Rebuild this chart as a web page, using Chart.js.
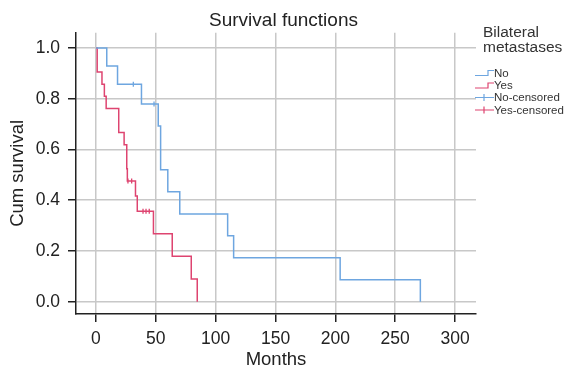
<!DOCTYPE html>
<html>
<head>
<meta charset="utf-8">
<script src="https://cdn.jsdelivr.net/npm/chart.js@4/dist/chart.umd.min.js"></script>
<style>
  html, body { margin: 0; padding: 0; background: #fff; }
  #wrap { width: 567px; height: 373px; }
</style>
</head>
<body>
<div id="wrap"><canvas id="c" width="567" height="373"></canvas></div>
<script>
// ---- data ----
const seriesNames = ['No', 'Yes', 'No-censored', 'Yes-censored'];
const legendTitle = ['Bilateral', 'metastases'];
const noTimes = [0, 9, 18, 38, 52, 54, 60, 70, 110, 115, 204, 271];
const noSurv  = [1, 0.929, 0.857, 0.779, 0.693, 0.520, 0.433, 0.346, 0.260, 0.173, 0.087, 0];
const yesTimes = [0, 1, 5, 7, 8.5, 19, 23.5, 25.7, 26.2, 33, 34.5, 48, 63.7, 79.6, 84.6];
const yesSurv  = [1, 0.905, 0.857, 0.810, 0.762, 0.667, 0.619, 0.524, 0.476, 0.417, 0.357, 0.268, 0.179, 0.089, 0];
const noCensTimes = [31.2, 48.5];
const noCensSurv  = [0.857, 0.779];
const yesCensTimes = [26.7, 29.8, 39.3, 41.8, 44.5];
const yesCensSurv  = [0.476, 0.476, 0.357, 0.357, 0.357];
const xTickValues = [0, 50, 100, 150, 200, 250, 300];
const yTickValues = [0, 0.2, 0.4, 0.6, 0.8, 1.0];

const BLUE = '#6ea6e0';
const RED = '#de4470';
const FONT = "'Liberation Sans', Arial, Helvetica, sans-serif";
const zip = (xs, ys) => xs.map((x, i) => ({x: x, y: ys[i]}));

const legendPlugin = {
  id: 'kmLegend',
  afterDraw(chart) {
    const ctx = chart.ctx;
    ctx.save();
    ctx.fillStyle = '#333';
    ctx.font = '15.5px ' + FONT;
    ctx.textBaseline = 'alphabetic';
    ctx.textAlign = 'left';
    legendTitle.forEach((t, i) => ctx.fillText(t, 483, 37 + i * 15));
    const ys = [73, 85.5, 97.5, 110];
    ctx.font = '11.5px ' + FONT;
    ctx.textBaseline = 'middle';
    chart.data.datasets.forEach((ds, i) => {
      const y = ys[i];
      const x0 = 475, x1 = 494;
      ctx.strokeStyle = ds.borderColor;
      ctx.lineWidth = 1.2;
      ctx.beginPath();
      if (i < 2) {
        ctx.moveTo(x0, y + 2.5);
        ctx.lineTo(x0 + 13, y + 2.5);
        ctx.lineTo(x0 + 13, y - 2.5);
        ctx.lineTo(x1, y - 2.5);
      } else {
        ctx.moveTo(x0, y);
        ctx.lineTo(x1, y);
        ctx.moveTo(x0 + 9, y - 3.5);
        ctx.lineTo(x0 + 9, y + 3.5);
      }
      ctx.stroke();
      ctx.fillStyle = '#333';
      ctx.fillText(ds.label, x1, y + 0.5);
    });
    ctx.restore();
  }
};

new Chart(document.getElementById('c'), {
  type: 'line',
  data: {
    datasets: [
      { label: seriesNames[0], data: zip(noTimes, noSurv), borderColor: BLUE, borderWidth: 1.5,
        stepped: 'before', pointRadius: 0, fill: false },
      { label: seriesNames[1], data: zip(yesTimes, yesSurv), borderColor: RED, borderWidth: 1.5,
        stepped: 'before', pointRadius: 0, fill: false },
      { label: seriesNames[2], data: zip(noCensTimes, noCensSurv), borderColor: BLUE, showLine: false,
        pointStyle: 'line', rotation: 90, pointRadius: 2.5, pointBorderWidth: 1.3, pointBorderColor: BLUE },
      { label: seriesNames[3], data: zip(yesCensTimes, yesCensSurv), borderColor: RED, showLine: false,
        pointStyle: 'line', rotation: 90, pointRadius: 2.5, pointBorderWidth: 1.3, pointBorderColor: RED }
    ]
  },
  options: {
    responsive: false,
    devicePixelRatio: 1,
    animation: false,
    layout: { padding: 0 },
    plugins: {
      legend: { display: false },
      tooltip: { enabled: false },
      title: {
        display: true, text: 'Survival functions', color: '#222',
        font: { family: FONT, size: 19, weight: 'normal' },
        padding: { top: 9, bottom: 1 }
      }
    },
    scales: {
      x: {
        type: 'linear', min: -16.7, max: 317.5,
        afterBuildTicks: (axis) => { axis.ticks = xTickValues.map(v => ({ value: v })); },
        afterFit: (s) => { s.height = 59; },
        ticks: { color: '#222', font: { family: FONT, size: 17.5 }, padding: 7, maxRotation: 0,
                 callback: (v) => String(v) },
        grid: { color: '#c8c8c8', lineWidth: 1.5, tickColor: '#222', tickLength: 8, drawOnChartArea: true },
        border: { display: true, color: '#222', width: 1.5 },
        title: { display: true, text: 'Months', color: '#222', font: { family: FONT, size: 18.5 },
                 padding: { top: 0, bottom: 2 } }
      },
      y: {
        type: 'linear', min: -0.0485, max: 1.06,
        afterBuildTicks: (axis) => { axis.ticks = yTickValues.map(v => ({ value: v })); },
        afterFit: (s) => { s.width = 76; },
        ticks: { color: '#222', font: { family: FONT, size: 17.5 }, padding: 8,
                 callback: (v) => Number(v).toFixed(1) },
        grid: { color: '#c8c8c8', lineWidth: 1.5, tickColor: '#222', tickLength: 8 },
        border: { display: true, color: '#222', width: 1.5 },
        title: { display: true, text: 'Cum survival', color: '#222', font: { family: FONT, size: 18.5 },
                 padding: { top: 6.5, bottom: 0 } }
      },
      legendSpace: {
        type: 'linear', position: 'right', display: true,
        afterFit: (s) => { s.width = 91; },
        ticks: { display: false },
        grid: { display: false, drawOnChartArea: false, drawTicks: false },
        border: { display: false }
      }
    }
  },
  plugins: [legendPlugin]
});
</script>
</body>
</html>
